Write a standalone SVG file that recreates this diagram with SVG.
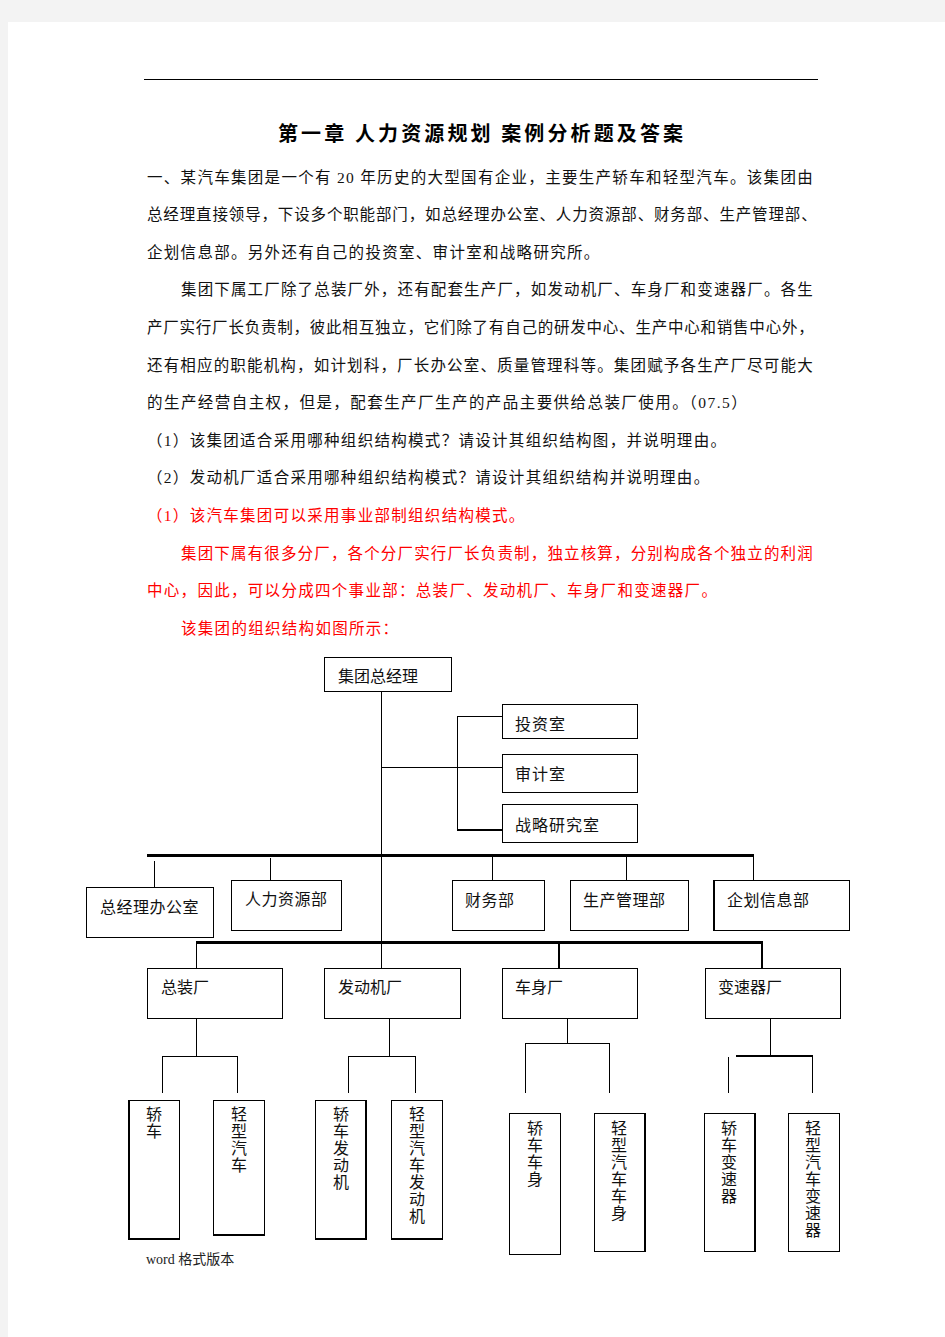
<svg xmlns="http://www.w3.org/2000/svg" width="945" height="1337" viewBox="0 0 945 1337">
<style>
.body{font-family:"Liberation Serif","Noto Sans CJK SC",serif;font-size:15.5px;letter-spacing:1.3px;fill:#111}
.red{fill:#ff0000}
.title{font-family:"Noto Sans CJK SC",sans-serif;font-size:20px;font-weight:bold;fill:#000}
.lbl{font-family:"Liberation Serif","Noto Sans CJK SC",serif;font-size:16px;fill:#111}
.vl{font-family:"Noto Sans CJK SC",sans-serif;font-size:16px;fill:#111;text-anchor:middle}
.box{fill:#fff;stroke:#000;stroke-width:1}
.ln{fill:none;stroke:#000;stroke-width:1}
.thick{fill:none;stroke:#000;stroke-width:3}
.mid{fill:none;stroke:#000;stroke-width:2}
.foot{font-family:"Liberation Serif","Noto Sans CJK SC",serif;font-size:14px;fill:#222}
</style>
<rect x="0" y="0" width="945" height="1337" fill="#f3f3f3"/>
<rect x="8" y="22" width="937" height="1315" fill="#fff"/>
<line x1="144" y1="79.5" x2="818" y2="79.5" stroke="#000" stroke-width="1"/>
<text class="title" x="278" y="141" textLength="405" lengthAdjust="spacing">第一章 人力资源规划 案例分析题及答案</text>
<g id="text">
<text class="body" x="147" y="182.5" textLength="667" lengthAdjust="spacing">一、某汽车集团是一个有 20 年历史的大型国有企业，主要生产轿车和轻型汽车。该集团由</text>
<text class="body" x="147" y="220.1" textLength="671" lengthAdjust="spacing">总经理直接领导，下设多个职能部门，如总经理办公室、人力资源部、财务部、生产管理部、</text>
<text class="body" x="147" y="257.7">企划信息部。另外还有自己的投资室、审计室和战略研究所。</text>
<text class="body" x="181" y="295.3" textLength="633" lengthAdjust="spacing">集团下属工厂除了总装厂外，还有配套生产厂，如发动机厂、车身厂和变速器厂。各生</text>
<text class="body" x="147" y="332.9" textLength="668" lengthAdjust="spacing">产厂实行厂长负责制，彼此相互独立，它们除了有自己的研发中心、生产中心和销售中心外，</text>
<text class="body" x="147" y="370.5" textLength="667" lengthAdjust="spacing">还有相应的职能机构，如计划科，厂长办公室、质量管理科等。集团赋予各生产厂尽可能大</text>
<text class="body" x="147" y="408.1" textLength="601" lengthAdjust="spacing">的生产经营自主权，但是，配套生产厂生产的产品主要供给总装厂使用。（07.5）</text>
<text class="body" x="147" y="445.7">（1）该集团适合采用哪种组织结构模式？请设计其组织结构图，并说明理由。</text>
<text class="body" x="147" y="483.3">（2）发动机厂适合采用哪种组织结构模式？请设计其组织结构并说明理由。</text>
<text class="body red" x="147" y="520.9">（1）该汽车集团可以采用事业部制组织结构模式。</text>
<text class="body red" x="181" y="558.5" textLength="633" lengthAdjust="spacing">集团下属有很多分厂，各个分厂实行厂长负责制，独立核算，分别构成各个独立的利润</text>
<text class="body red" x="147" y="596.1">中心，因此，可以分成四个事业部：总装厂、发动机厂、车身厂和变速器厂。</text>
<text class="body red" x="181" y="633.7">该集团的组织结构如图所示：</text>
</g>
<g id="connectors">
<path class="ln" d="M381.5 691 V968 M381 767.5 H502"/>
<path class="ln" d="M457.5 716 V830 M457 716.5 H502"/>
<path class="mid" d="M457 830 H502"/>
<path class="thick" d="M147 855.5 H754"/>
<path class="ln" d="M154.5 861 V887 M270.5 858 V880 M492.5 855 V880 M626.5 855 V880 M753.5 855 V880"/>
<path class="thick" d="M196 942.5 H763"/>
<path class="ln" d="M196.5 942 V968"/>
<path class="mid" d="M559 942 V968 M762 942 V968"/>
<path class="ln" d="M196.5 1018 V1056 M162 1056.5 H237 M162.5 1056 V1093 M237.5 1056 V1093"/>
<path class="ln" d="M389.5 1018 V1056 M348 1056.5 H415 M348.5 1056 V1093 M415.5 1056 V1093"/>
<path class="ln" d="M567.5 1018 V1043 M525 1043.5 H609 M525.5 1043 V1093 M609.5 1043 V1093"/>
<path class="ln" d="M770.5 1018 V1056 M728.5 1057 V1093 M812.5 1056 V1093"/>
<path class="mid" d="M736 1056 H813"/>
</g>
<g id="n-gm"><rect class="box" x="324.5" y="657.5" width="127" height="34"/><text class="lbl" x="338" y="682">集团总经理</text></g>
<g id="n-inv"><rect class="box" x="502.5" y="704.5" width="135" height="34"/><text class="lbl" x="515" y="730" letter-spacing="1">投资室</text></g>
<g id="n-audit"><rect class="box" x="502.5" y="754.5" width="135" height="38"/><text class="lbl" x="515" y="780" letter-spacing="1">审计室</text></g>
<g id="n-strat"><rect class="box" x="502.5" y="804.5" width="135" height="38"/><text class="lbl" x="515" y="831" letter-spacing="1">战略研究室</text></g>
<g id="n-office"><rect class="box" x="86.5" y="887.5" width="127" height="50"/><text class="lbl" x="100" y="913" letter-spacing="0.5">总经理办公室</text></g>
<g id="n-hr"><rect class="box" x="231.5" y="880.5" width="110" height="50"/><text class="lbl" x="245" y="905" letter-spacing="0.5">人力资源部</text></g>
<g id="n-fin"><rect class="box" x="452.5" y="880.5" width="92" height="50"/><text class="lbl" x="465" y="906" letter-spacing="0.5">财务部</text></g>
<g id="n-prod"><rect class="box" x="570.5" y="880.5" width="118" height="50"/><text class="lbl" x="583" y="906" letter-spacing="0.5">生产管理部</text></g>
<g id="n-plan"><rect class="box" x="713.5" y="880.5" width="136" height="50"/><line class="mid" x1="714" y1="880" x2="714" y2="931"/><text class="lbl" x="727" y="906" letter-spacing="0.5">企划信息部</text></g>
<g id="n-assembly"><rect class="box" x="147.5" y="968.5" width="135" height="50"/><text class="lbl" x="161" y="993">总装厂</text></g>
<g id="n-engine"><rect class="box" x="324.5" y="968.5" width="136" height="50"/><text class="lbl" x="338" y="993">发动机厂</text></g>
<g id="n-body"><rect class="box" x="502.5" y="968.5" width="135" height="50"/><text class="lbl" x="515" y="993">车身厂</text></g>
<g id="n-gear"><rect class="box" x="705.5" y="968.5" width="135" height="50"/><text class="lbl" x="718" y="993">变速器厂</text></g>
<g id="leaf-1"><rect class="box" x="128.5" y="1100.5" width="51" height="139"/><path class="mid" d="M129 1100 V1240 M128 1239 H180"/>
<text class="vl"><tspan x="154" y="1120">轿</tspan><tspan x="154" dy="17">车</tspan></text></g>
<g id="leaf-2"><rect class="box" x="213.5" y="1100.5" width="51" height="135"/><path class="mid" d="M213 1235 H265"/>
<text class="vl"><tspan x="239" y="1120">轻</tspan><tspan x="239" dy="17">型</tspan><tspan x="239" dy="17">汽</tspan><tspan x="239" dy="17">车</tspan></text></g>
<g id="leaf-3"><rect class="box" x="315.5" y="1100.5" width="51" height="139"/><path class="mid" d="M366 1100 V1240 M315 1239 H367"/>
<text class="vl"><tspan x="341" y="1120">轿</tspan><tspan x="341" dy="17">车</tspan><tspan x="341" dy="17">发</tspan><tspan x="341" dy="17">动</tspan><tspan x="341" dy="17">机</tspan></text></g>
<g id="leaf-4"><rect class="box" x="391.5" y="1100.5" width="51" height="139"/><path class="mid" d="M391 1239 H443"/>
<text class="vl"><tspan x="417" y="1120">轻</tspan><tspan x="417" dy="17">型</tspan><tspan x="417" dy="17">汽</tspan><tspan x="417" dy="17">车</tspan><tspan x="417" dy="17">发</tspan><tspan x="417" dy="17">动</tspan><tspan x="417" dy="17">机</tspan></text></g>
<g id="leaf-5"><rect class="box" x="509.5" y="1113.5" width="51" height="141"/>
<text class="vl"><tspan x="535" y="1134">轿</tspan><tspan x="535" dy="17">车</tspan><tspan x="535" dy="17">车</tspan><tspan x="535" dy="17">身</tspan></text></g>
<g id="leaf-6"><rect class="box" x="594.5" y="1113.5" width="51" height="138"/><path class="mid" d="M645 1113 V1252"/>
<text class="vl"><tspan x="619" y="1134">轻</tspan><tspan x="619" dy="17">型</tspan><tspan x="619" dy="17">汽</tspan><tspan x="619" dy="17">车</tspan><tspan x="619" dy="17">车</tspan><tspan x="619" dy="17">身</tspan></text></g>
<g id="leaf-7"><rect class="box" x="704.5" y="1113.5" width="51" height="138"/><path class="mid" d="M755 1113 V1252"/>
<text class="vl"><tspan x="729" y="1134">轿</tspan><tspan x="729" dy="17">车</tspan><tspan x="729" dy="17">变</tspan><tspan x="729" dy="17">速</tspan><tspan x="729" dy="17">器</tspan></text></g>
<g id="leaf-8"><rect class="box" x="788.5" y="1113.5" width="51" height="138"/>
<text class="vl"><tspan x="813" y="1134">轻</tspan><tspan x="813" dy="17">型</tspan><tspan x="813" dy="17">汽</tspan><tspan x="813" dy="17">车</tspan><tspan x="813" dy="17">变</tspan><tspan x="813" dy="17">速</tspan><tspan x="813" dy="17">器</tspan></text></g>
<text class="foot" x="146" y="1264">word 格式版本</text>
</svg>
